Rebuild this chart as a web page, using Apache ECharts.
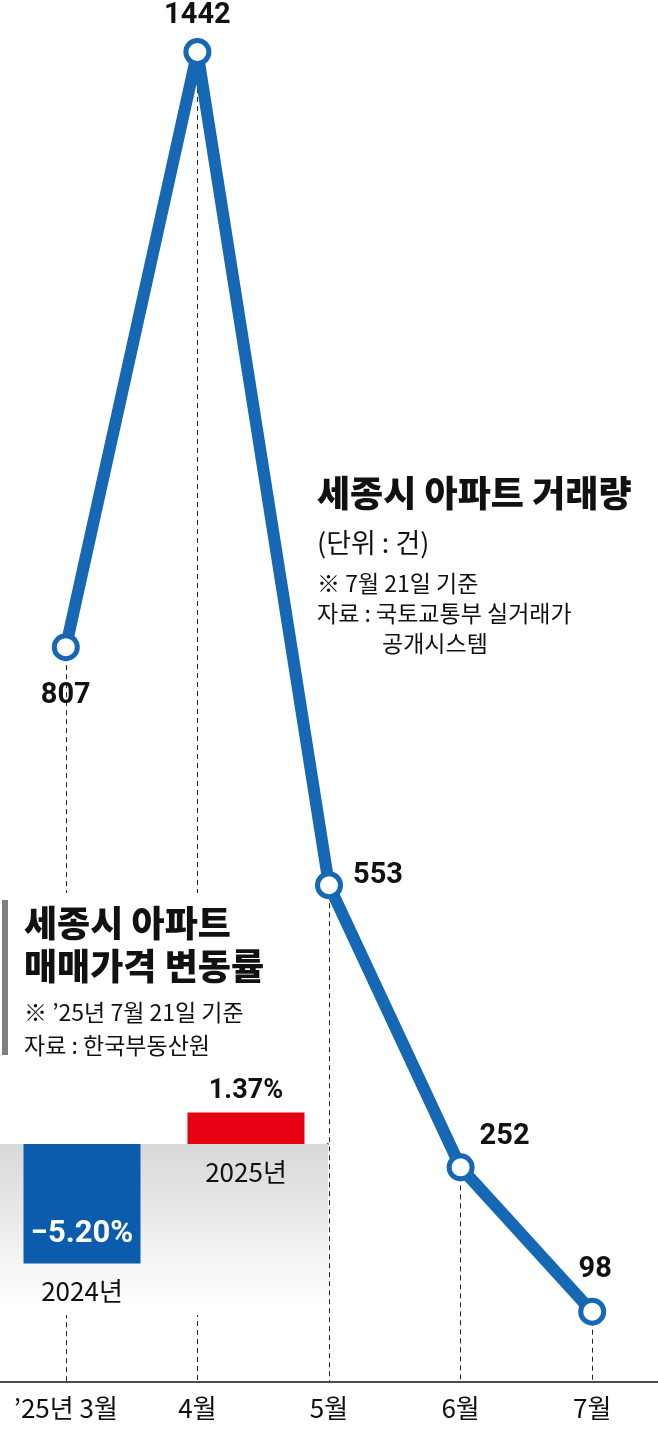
<!DOCTYPE html>
<html><head><meta charset="utf-8">
<script src="https://cdn.jsdelivr.net/npm/echarts@6/dist/echarts.min.js"></script>
<style>html,body{margin:0;padding:0;background:#fff}#c{width:658px;height:1429px}</style>
</head><body><div id="c"></div>
<script>
const months = ['’25년 3월', '4월', '5월', '6월', '7월'];
const volumes = [807, 1442, 553, 252, 98];
const priceYears = ['2024년', '2025년'];
const priceChanges = [-5.20, 1.37];

const KR = '"Noto Sans CJK KR", sans-serif';
const NUM = 'Roboto, "Noto Sans CJK KR", sans-serif';
const LINE_BLUE = '#1667b4';
const yMin = 23;

const volLabelCfg = [
  { position: 'bottom', distance: 20 },
  { position: 'top', distance: 8 },
  { position: 'right', distance: 10, offset: [0, -9] },
  { position: 'right', distance: 5, offset: [0, -31] },
  { position: 'top', distance: 13, offset: [3, 0] }
];

const chart = echarts.init(document.getElementById('c'), null, { renderer: 'canvas' });
chart.setOption({
  animation: false,
  backgroundColor: '#fff',
  grid: [
    { left: 0, right: 0, top: 52, bottom: 47 },
    { left: 0, width: 328, top: 1098, bottom: 124 }
  ],
  xAxis: [
    {
      gridIndex: 0, type: 'category', data: months, boundaryGap: true,
      axisLine: { show: true, lineStyle: { color: '#111', width: 1.5 } },
      axisTick: { show: false },
      axisLabel: { color: '#111', fontFamily: KR, fontSize: 26, margin: 13, interval: 0, hideOverlap: false },
      splitLine: { show: false }
    },
    {
      gridIndex: 1, type: 'category', data: priceYears,
      axisLine: { show: true, onZero: true, lineStyle: { color: '#111', width: 1.5 } },
      axisTick: { show: false }, axisLabel: { show: false }, splitLine: { show: false }
    }
  ],
  yAxis: [
    { gridIndex: 0, type: 'value', min: yMin, max: 1442, show: false },
    { gridIndex: 1, type: 'value', min: -7, max: 2, show: false }
  ],
  series: [
    {
      name: 'guides', type: 'line', xAxisIndex: 0, yAxisIndex: 0,
      data: [], silent: true, z: 1,
      markLine: {
        silent: true, z: 1, symbol: ['none', 'none'], animation: false,
        label: { show: false }, emphasis: { disabled: true },
        lineStyle: { color: '#222', width: 1, type: [5, 4] },
        data: volumes.map((v, i) => [{ coord: [months[i], v] }, { coord: [months[i], yMin] }])
      }
    },
    {
      name: '거래량', type: 'line', xAxisIndex: 0, yAxisIndex: 0, z: 10,
      data: volumes.map((v, i) => ({
        value: v,
        label: Object.assign({ show: true }, volLabelCfg[i])
      })),
      symbol: 'circle', symbolSize: 23,
      lineStyle: { color: LINE_BLUE, width: 12 },
      itemStyle: { color: '#fff', borderColor: LINE_BLUE, borderWidth: 5 },
      label: { show: true, color: '#111', fontFamily: NUM, fontWeight: 'bold', fontSize: 29 },
      emphasis: { disabled: true }
    },
    {
      name: '변동률', type: 'bar', xAxisIndex: 1, yAxisIndex: 1, z: 10,
      barWidth: 117,
      data: priceChanges.map(v => ({
        value: v,
        itemStyle: { color: v < 0 ? '#0b5cad' : '#e60012' },
        label: v < 0
          ? { show: true, position: 'insideBottom', distance: 14, color: '#fff', fontSize: 31 }
          : { show: true, position: 'top', distance: 8, color: '#111', fontSize: 27 }
      })),
      label: {
        fontFamily: NUM, fontWeight: 'bold',
        formatter: p => (p.value < 0 ? '−' : '') + Math.abs(p.value).toFixed(2) + '%'
      },
      emphasis: { disabled: true }
    },
    {
      name: '연도', type: 'bar', xAxisIndex: 1, yAxisIndex: 1, z: 11,
      barWidth: 117, barGap: '-100%',
      data: priceChanges,
      itemStyle: { color: 'rgba(0,0,0,0)' },
      label: {
        show: true, position: 'bottom', distance: 15, color: '#111',
        fontFamily: KR, fontSize: 26,
        formatter: p => p.name
      },
      emphasis: { disabled: true },
      markArea: {
        silent: true, z: 3,
        itemStyle: {
          color: new echarts.graphic.LinearGradient(0, 0, 0, 1, [
            { offset: 0, color: '#d8d8d8' },
            { offset: 1, color: '#ffffff' }
          ])
        },
        data: [[{ yAxis: 0 }, { yAxis: -7 }]]
      }
    }
  ],
  graphic: {
    elements: [
      { type: 'rect', z: 2, shape: { x: 0, y: 893, width: 327, height: 422 }, style: { fill: '#fff' }, silent: true },
      { type: 'rect', z: 20, shape: { x: 2, y: 900, width: 6, height: 155 }, style: { fill: '#7f7f7f' }, silent: true },
      { type: 'text', z: 20, x: 24, y: 923, style: { text: '세종시 아파트', fill: '#111', font: '900 36px ' + KR, textVerticalAlign: 'middle' } },
      { type: 'text', z: 20, x: 24, y: 966, style: { text: '매매가격 변동률', fill: '#111', font: '900 36px ' + KR, textVerticalAlign: 'middle' } },
      { type: 'text', z: 20, x: 24, y: 1012, style: { text: '※ ’25년 7월 21일 기준', fill: '#111', font: '23px ' + KR, textVerticalAlign: 'middle' } },
      { type: 'text', z: 20, x: 24, y: 1045, style: { text: '자료 : 한국부동산원', fill: '#111', font: '23px ' + KR, textVerticalAlign: 'middle' } },
      { type: 'text', z: 20, x: 317, y: 493, style: { text: '세종시 아파트 거래량', fill: '#111', font: '900 36px ' + KR, textVerticalAlign: 'middle' } },
      { type: 'text', z: 20, x: 317, y: 543, style: { text: '(단위 : 건)', fill: '#111', font: '27px ' + KR, textVerticalAlign: 'middle' } },
      { type: 'text', z: 20, x: 317, y: 583, style: { text: '※ 7월 21일 기준', fill: '#111', font: '23px ' + KR, textVerticalAlign: 'middle' } },
      { type: 'text', z: 20, x: 317, y: 613, style: { text: '자료 : 국토교통부 실거래가', fill: '#111', font: '23px ' + KR, textVerticalAlign: 'middle' } },
      { type: 'text', z: 20, x: 382, y: 643, style: { text: '공개시스템', fill: '#111', font: '23px ' + KR, textVerticalAlign: 'middle' } }
    ]
  }
});
</script>
</body></html>
